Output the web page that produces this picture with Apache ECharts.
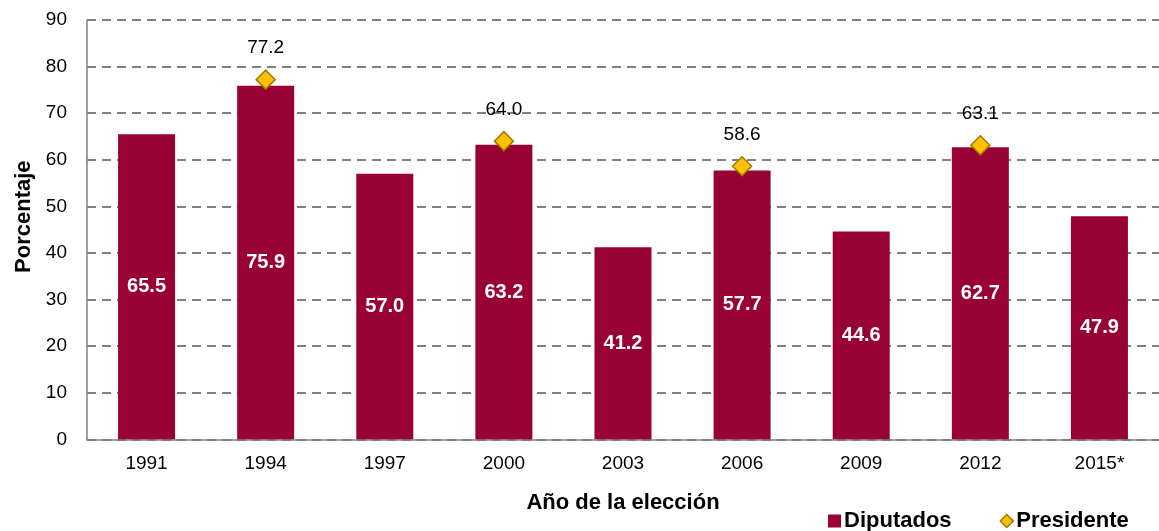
<!DOCTYPE html>
<html><head><meta charset="utf-8">
<script src="https://cdn.jsdelivr.net/npm/echarts@6/dist/echarts.min.js"></script>
<style>html,body{margin:0;padding:0;background:#fff}#c{width:1159px;height:531px}</style>
</head><body><div id="c"></div>
<script>
const categories = ['1991','1994','1997','2000','2003','2006','2009','2012','2015*'];
const diputados = [65.5, 75.9, 57.0, 63.2, 41.2, 57.7, 44.6, 62.7, 47.9];
const presidente = [null, 77.2, null, 64.0, null, 58.6, null, 63.1, null];
const yTicks = {min: 0, max: 90, interval: 10};

const chart = echarts.init(document.getElementById('c'));
const font = 'Liberation Sans, Arial, sans-serif';
chart.setOption({
  animation: false,
  textStyle: {fontFamily: font},
  grid: {left: 87, top: 20, width: 1081, height: 419.3, containLabel: false},
  legend: {
    top: 505, left: 823, itemGap: 48, itemWidth: 13, itemHeight: 13,
    textStyle: {fontSize: 22, fontWeight: 'bold', color: '#000', fontFamily: font, padding: [0, 0, 0, -2]},
    data: [
      {name: 'Diputados', icon: 'rect'},
      {name: 'Presidente', icon: 'diamond', itemStyle: {color: '#FFC000', borderColor: '#9C7A00', borderWidth: 1.5}}
    ]
  },
  xAxis: {
    type: 'category', data: categories,
    name: 'Año de la elección', nameLocation: 'middle', nameGap: 53,
    nameTextStyle: {fontSize: 22, fontWeight: 'bold', color: '#000'},
    axisLine: {lineStyle: {color: '#808080', width: 1.5}},
    axisTick: {show: false},
    axisLabel: {fontSize: 19, color: '#000', margin: 15}
  },
  yAxis: {
    type: 'value', min: yTicks.min, max: yTicks.max, interval: yTicks.interval,
    name: 'Porcentaje', nameLocation: 'middle', nameGap: 51,
    nameTextStyle: {fontSize: 22, fontWeight: 'bold', color: '#000', padding: [0, 0, 0, 26]},
    axisLine: {show: true, lineStyle: {color: '#808080', width: 1.5}},
    axisTick: {show: false},
    axisLabel: {fontSize: 19, color: '#000', margin: 20},
    splitLine: {lineStyle: {color: '#808080', width: 2, type: [9, 6]}}
  },
  series: [
    {
      name: 'Diputados', type: 'bar', data: diputados, barWidth: 57,
      itemStyle: {color: '#990033'},
      label: {show: true, position: 'inside', color: '#fff', fontSize: 20, fontWeight: 'bold',
        formatter: p => p.value.toFixed(1)}
    },
    {
      name: 'Presidente', type: 'line', data: presidente,
      lineStyle: {width: 0}, connectNulls: false,
      symbol: 'diamond', symbolSize: 19,
      itemStyle: {color: '#FFC000', borderColor: '#9C7A00', borderWidth: 1.5},
      label: {show: true, position: 'top', distance: 12, color: '#000', fontSize: 19,
        formatter: p => p.value == null ? '' : p.value.toFixed(1)}
    }
  ]
});
</script></body></html>
